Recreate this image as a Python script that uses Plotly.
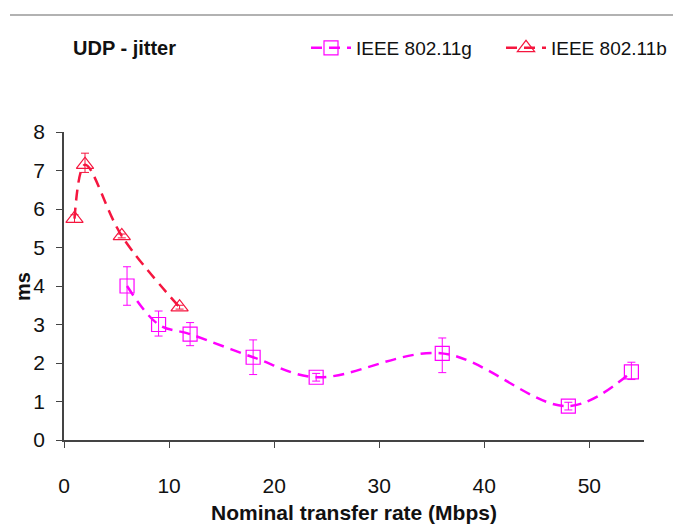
import plotly.graph_objects as go

# 802.11g
g_x = [6, 9, 12, 18, 24, 36, 48, 54]
g_y = [4.0, 3.0, 2.75, 2.15, 1.63, 2.25, 0.88, 1.77]
g_err_plus = [0.5, 0.35, 0.3, 0.45, 0.1, 0.4, 0.1, 0.25]
g_err_minus = [0.5, 0.3, 0.3, 0.45, 0.1, 0.5, 0.1, 0.2]

# 802.11b
b_x = [1, 2, 5.5, 11]
b_y = [5.75, 7.15, 5.3, 3.45]
b_err_plus = [0.1, 0.3, 0.05, 0.05]
b_err_minus = [0.1, 0.2, 0.05, 0.05]

x_ticks = [0, 10, 20, 30, 40, 50]
y_ticks = [0, 1, 2, 3, 4, 5, 6, 7, 8]

MAG = "#FF00FF"
RED = "#F5163F"
FONT = "Liberation Sans Narrow, Arial Narrow, Liberation Sans, Arial, sans-serif"

L, R, T, B = 64, 29, 132, 85
PW, PH = 673 - L - R, 525 - T - B


def px_x(px):
    return (px - L) / PW


def px_y(py):
    return (525 - B - py) / PH


fig = go.Figure()
fig.add_trace(go.Scatter(
    x=g_x, y=g_y, name="IEEE 802.11g", mode="lines+markers",
    line=dict(color=MAG, width=2.5, dash="11px,7px", shape="spline", smoothing=1),
    marker=dict(symbol="square-open", size=14, color=MAG, line=dict(width=1.2)),
    error_y=dict(type="data", symmetric=False, array=g_err_plus, arrayminus=g_err_minus,
                 color=MAG, thickness=1, width=4),
))
fig.add_trace(go.Scatter(
    x=b_x, y=b_y, name="IEEE 802.11b", mode="lines+markers",
    line=dict(color=RED, width=2.5, dash="11px,7px", shape="spline", smoothing=1),
    marker=dict(symbol="triangle-up-open", size=15, color=RED, line=dict(width=1.2)),
    error_y=dict(type="data", symmetric=False, array=b_err_plus, arrayminus=b_err_minus,
                 color=RED, thickness=1, width=4),
))

fig.update_layout(
    width=673, height=525,
    margin=dict(l=L, r=R, t=T, b=B, autoexpand=False),
    paper_bgcolor="white", plot_bgcolor="white",
    font=dict(family=FONT, size=21, color="#111"),
    showlegend=True,
    legend=dict(orientation="h", x=px_x(306), y=px_y(48), xanchor="left", yanchor="middle",
                font=dict(family=FONT, size=19, color="#111"),
                bgcolor="rgba(0,0,0,0)", itemwidth=40, entrywidth=140,
                entrywidthmode="pixels", tracegroupgap=0),
    xaxis=dict(range=[0, 55.2], tickvals=x_ticks, ticks="outside", ticklen=6,
               tickcolor="#444", showline=True, linecolor="#444", linewidth=1.5,
               showgrid=False, zeroline=False, ticklabelstandoff=20,
               title=dict(text="<b>Nominal transfer rate (Mbps)</b>", standoff=9,
                          font=dict(size=21)),
               tickfont=dict(size=21)),
    yaxis=dict(range=[0, 8], tickvals=y_ticks, ticks="outside", ticklen=6,
               tickcolor="#444", showline=True, linecolor="#444", linewidth=1.5,
               showgrid=False, zeroline=False, ticklabelstandoff=7,
               tickfont=dict(size=21)),
    annotations=[
        dict(text="<b>UDP - jitter</b>", xref="paper", yref="paper",
             x=px_x(71), y=px_y(48), xanchor="left", yanchor="middle",
             showarrow=False, font=dict(family=FONT, size=20, color="#111")),
        dict(text="<b>ms</b>", xref="paper", yref="paper",
             x=px_x(23), y=px_y(287), xanchor="center", yanchor="middle",
             textangle=-90, showarrow=False,
             font=dict(family=FONT, size=20, color="#111")),
    ],
    shapes=[dict(type="line", xref="paper", yref="paper",
                 x0=px_x(10), x1=px_x(673),
                 y0=px_y(15), y1=px_y(15),
                 line=dict(color="#999", width=1.5))],
)

fig.write_html("out.html")
